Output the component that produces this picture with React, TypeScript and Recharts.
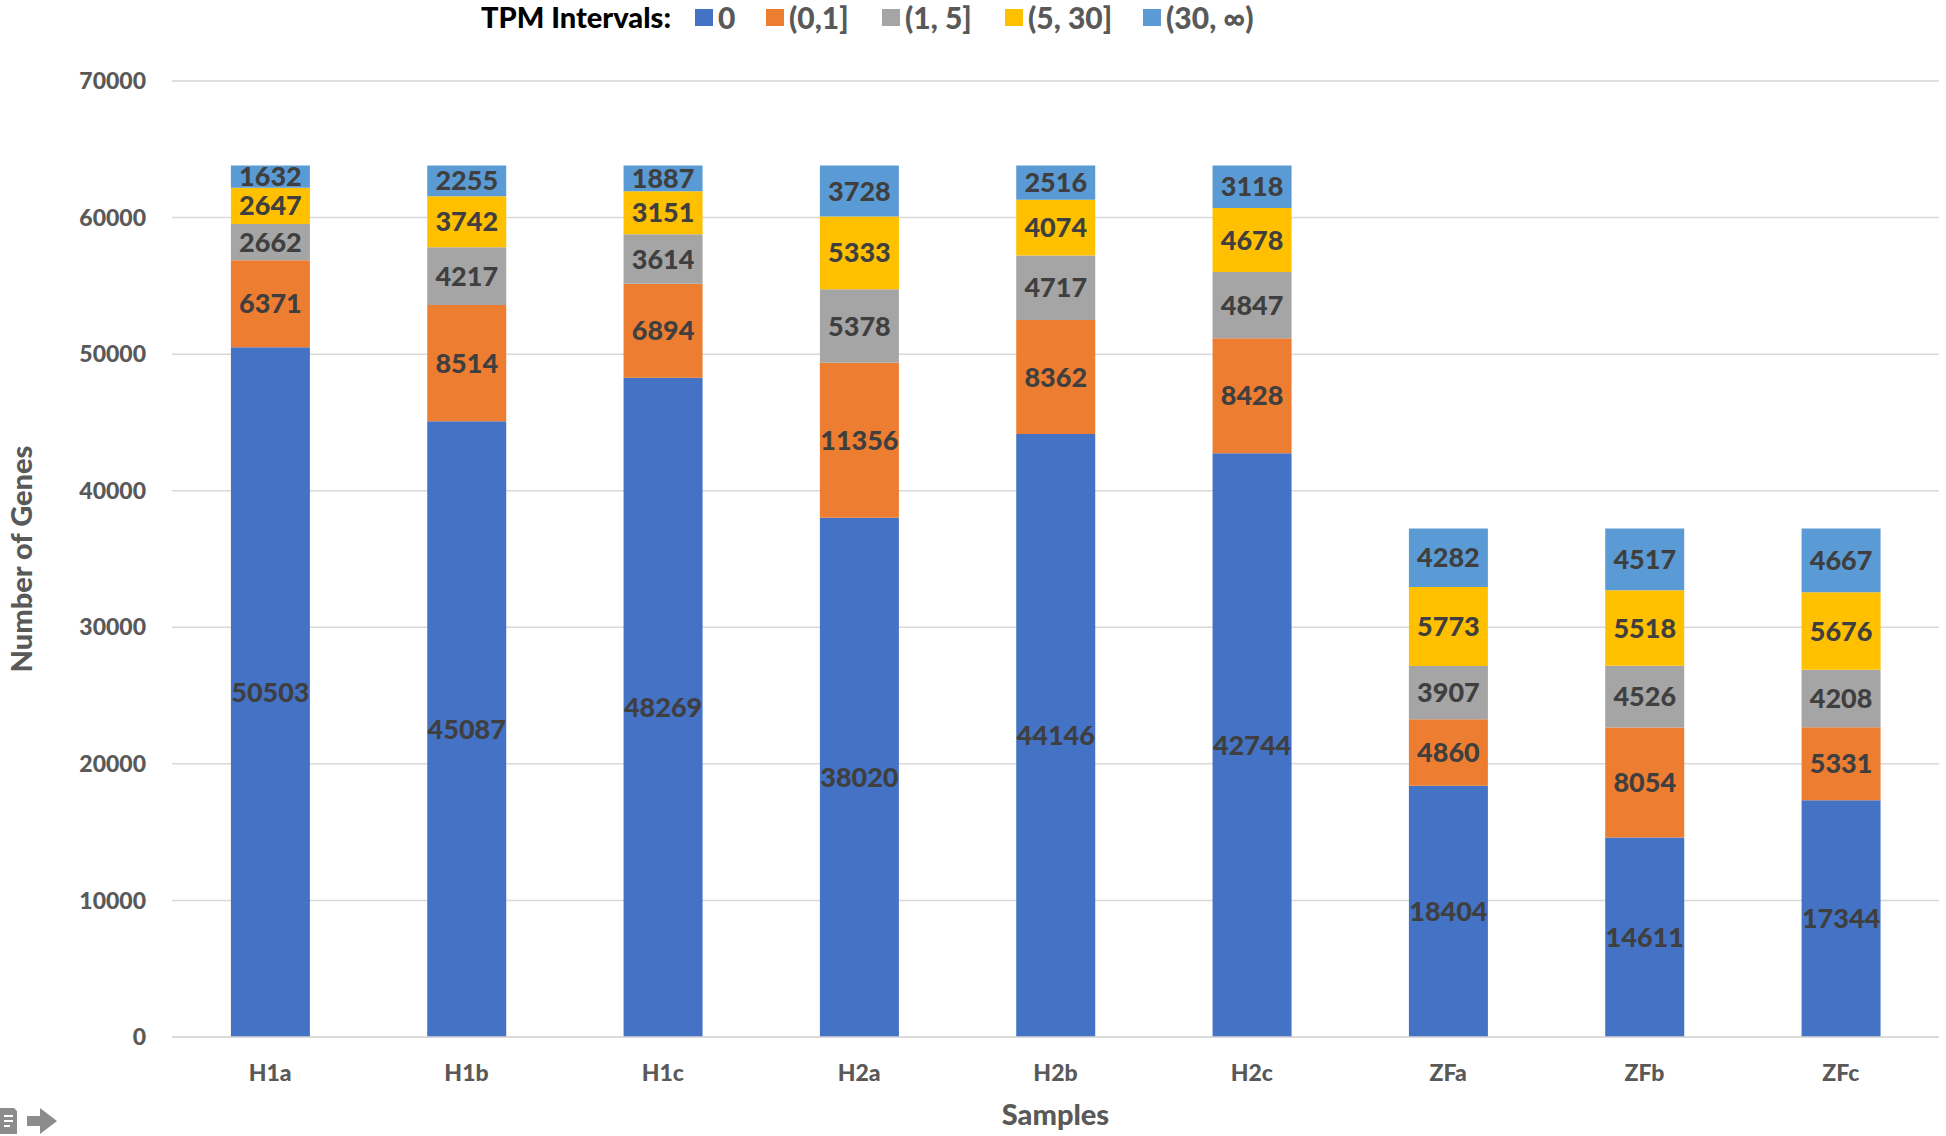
import React from 'react';
import { BarChart, Bar, XAxis, YAxis, CartesianGrid, LabelList, Legend, Label } from 'recharts';

const categories = ['H1a', 'H1b', 'H1c', 'H2a', 'H2b', 'H2c', 'ZFa', 'ZFb', 'ZFc'];
const tpm0 = [50503, 45087, 48269, 38020, 44146, 42744, 18404, 14611, 17344];
const tpm0to1 = [6371, 8514, 6894, 11356, 8362, 8428, 4860, 8054, 5331];
const tpm1to5 = [2662, 4217, 3614, 5378, 4717, 4847, 3907, 4526, 4208];
const tpm5to30 = [2647, 3742, 3151, 5333, 4074, 4678, 5773, 5518, 5676];
const tpm30up = [1632, 2255, 1887, 3728, 2516, 3118, 4282, 4517, 4667];

const majorTicks = [0, 10000, 20000, 30000, 40000, 50000, 60000, 70000];
const minorTicks = [
  0, 2000, 4000, 6000, 8000, 10000, 12000, 14000, 16000, 18000, 20000, 22000, 24000, 26000, 28000, 30000,
  32000, 34000, 36000, 38000, 40000, 42000, 44000, 46000, 48000, 50000, 52000, 54000, 56000, 58000, 60000,
  62000, 64000, 66000, 68000, 70000,
];

const seriesNames = ['0', '(0,1]', '(1, 5]', '(5, 30]', '(30, \u221E)'];
const seriesKeys = ['s0', 's1', 's2', 's3', 's4'];
const seriesColors = ['#4472C4', '#ED7D31', '#A5A5A5', '#FFC000', '#5B9BD5'];
const seriesValues = [tpm0, tpm0to1, tpm1to5, tpm5to30, tpm30up];

const data = categories.map((c, i) => {
  const row: any = { name: c };
  seriesKeys.forEach((k, j) => {
    row[k] = seriesValues[j][i];
  });
  return row;
});

const FONT = 'Lato, "Open Sans", sans-serif';
const W = 900;

// left edges of legend swatches (layout only)
const legendSwatchLeft = [695, 766, 882, 1005, 1143];

const LegendContent = () => (
  <div style={{ position: 'relative', width: 1946, height: 40, fontFamily: FONT, fontWeight: W, whiteSpace: 'nowrap' }}>
    <span style={{ position: 'absolute', left: 481, top: -1, fontSize: 29, lineHeight: '36px', color: '#000' }}>
      TPM Intervals:
    </span>
    {seriesNames.map((n, i) => (
      <span
        key={n}
        style={{ position: 'absolute', left: legendSwatchLeft[i], top: -1, display: 'flex', alignItems: 'center', height: 36, color: '#595959', fontSize: 30 }}
      >
        <span style={{ display: 'inline-block', width: 18, height: 17, background: seriesColors[i], marginRight: 5 }} />
        <span>{n}</span>
      </span>
    ))}
  </div>
);

const YLabel = (props: any) => {
  const vb = props.viewBox || {};
  const x = vb.x + 20;
  const y = vb.y + vb.height / 2;
  return (
    <text
      x={x}
      y={y}
      transform={`rotate(-90, ${x}, ${y})`}
      textAnchor="middle"
      dominantBaseline="central"
      fill="#595959"
      fontFamily={FONT}
      fontWeight={W}
      fontSize={29}
    >
      Number of Genes
    </text>
  );
};

const XLabel = (props: any) => {
  const vb = props.viewBox || {};
  const x = vb.x + vb.width / 2;
  const y = vb.y + 76;
  return (
    <text x={x} y={y} textAnchor="middle" dominantBaseline="central" fill="#595959" fontFamily={FONT} fontWeight={W} fontSize={29}>
      Samples
    </text>
  );
};

export default function App() {
  return (
    <div style={{ position: 'absolute', left: 0, top: 0, width: 1946, height: 1136, background: '#fff' }}>
      <BarChart
        width={1946}
        height={1136}
        data={data}
        margin={{ top: 81, right: 7, bottom: 0, left: 0 }}
        barCategoryGap="30%"
      >
        <YAxis yAxisId="minor" hide domain={[0, 70000]} ticks={minorTicks} type="number" />
        <CartesianGrid yAxisId="minor" vertical={false} stroke="#F0F0F0" strokeWidth={1.5} />
        <CartesianGrid vertical={false} stroke="#D9D9D9" strokeWidth={1.5} />
        <XAxis
          dataKey="name"
          height={99}
          axisLine={{ stroke: '#D9D9D9', strokeWidth: 1.5 }}
          tickLine={false}
          tickMargin={22}
          tick={{ fill: '#595959', fontFamily: FONT, fontWeight: W, fontSize: 23 }}
        >
          <Label content={<XLabel />} />
        </XAxis>
        <YAxis
          width={172}
          domain={[0, 70000]}
          ticks={majorTicks}
          axisLine={false}
          tickLine={false}
          tickMargin={20}
          tick={{ fill: '#595959', fontFamily: FONT, fontWeight: W, fontSize: 23 }}
        >
          <Label content={<YLabel />} />
        </YAxis>
        <Legend
          verticalAlign="middle"
          align="center"
          layout="horizontal"
          wrapperStyle={{ top: 0, left: 0, width: 1946 }}
          content={<LegendContent />}
        />
        {seriesKeys.map((k, j) => (
          <Bar key={k} dataKey={k} name={seriesNames[j]} stackId="a" fill={seriesColors[j]} isAnimationActive={false}>
            <LabelList
              dataKey={k}
              position="center"
              fill="#3F3F3F"
              fontFamily={FONT}
              fontWeight={W}
              fontSize={27}
            />
          </Bar>
        ))}
      </BarChart>
      <svg style={{ position: 'absolute', left: 0, top: 1104 }} width={60} height={32}>
        <path d="M0 4 H14 L17 7 V30 H0 Z" fill="#8C8C8C" />
        <path d="M4 12 H13 M4 17 H13 M4 22 H10" stroke="#fff" strokeWidth={2} />
        <path d="M27 12 H40 V4 L57 17 L40 30 V22 H27 Z" fill="#8C8C8C" />
      </svg>
    </div>
  );
}
